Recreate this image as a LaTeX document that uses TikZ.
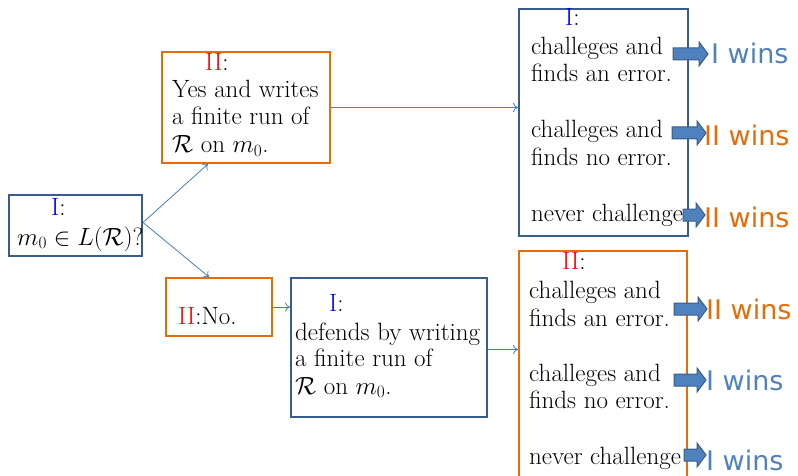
\documentclass[tikz,border=0pt]{standalone}
\usepackage{fontspec}
\usepackage{amsmath,amssymb}
\usetikzlibrary{calc,arrows.meta}
\newfontfamily\winfont{DejaVu Sans}
\definecolor{boxblue}{HTML}{385D8A}
\definecolor{boxorange}{HTML}{E46C0A}
\definecolor{lineblue}{HTML}{4A7EBB}
\definecolor{winblue}{HTML}{4F81BD}
\definecolor{winorange}{HTML}{E46C0A}
\tikzset{
  bluebox/.style={draw=boxblue, line width=2pt, anchor=north west, inner sep=0pt},
  orangebox/.style={draw=boxorange, line width=2pt, anchor=north west, inner sep=0pt},
  txt/.style={anchor=base west, inner sep=0pt, font=\fontsize{25}{27}\selectfont},
  conn/.style={draw=lineblue, line width=0.8pt, -{To[length=5pt,width=9pt]}},
  blockarrow/.style={draw=boxblue, fill=winblue, line width=1pt, line join=miter},
  winlab/.style={anchor=base west, inner sep=0pt, font=\winfont\fontsize{27}{30}\selectfont},
}
% \barrow{x0}{x1}{y}
\newcommand\barrow[3]{%
  \draw[blockarrow] (#1,#3-6) -- (#2-9,#3-6) -- (#2-9,#3-12) -- (#2,#3) -- (#2-9,#3+12)
    -- (#2-9,#3+6) -- (#1,#3+6) -- cycle;}
\begin{document}
\begin{tikzpicture}[x=1pt,y=-1pt]
\useasboundingbox (0,0) rectangle (798,476);
% boxes
\node[bluebox, minimum width=133, minimum height=61] (A) at (8,194) {};
\node[orangebox, minimum width=168, minimum height=111] (B) at (161,51) {};
\node[bluebox, minimum width=169, minimum height=227] (C) at (518,8) {};
\node[orangebox, minimum width=106, minimum height=58] (D) at (165,277) {};
\node[bluebox, minimum width=196, minimum height=139] (E) at (290,277) {};
\node[orangebox, minimum width=168, minimum height=240] (F) at (518,250) {};
% texts
\node[txt] (a1) at (51,215) {\textcolor{blue}{I}:};
\node[txt] (a2) at (17,245) {$m_0\in L(\mathcal{R})$?};
\node[txt] (b1) at (205,71) {\textcolor{red}{II}:};
\node[txt] (b2) at (172,98) {Yes and writes};
\node[txt] (b3) at (172,125) {a finite run of};
\node[txt] (b4) at (172,153) {$\mathcal{R}$ on $m_0$.};
\node[txt] (c1) at (565,26) {\textcolor{blue}{I}:};
\node[txt] (c2) at (531,55) {challeges and};
\node[txt] (c3) at (531,82) {finds an error.};
\node[txt] (c4) at (531,138) {challeges and};
\node[txt] (c5) at (531,165) {finds no error.};
\node[txt] (c6) at (531,221) {never challenge};
\node[txt] (d1) at (178,324) {\textcolor{red}{II}:No.};
\node[txt] (e1) at (329,311) {\textcolor{blue}{I}:};
\node[txt] (e2) at (295,340) {defends by writing};
\node[txt] (e3) at (295,366) {a finite run of};
\node[txt] (e4) at (295,394) {$\mathcal{R}$ on $m_0$.};
\node[txt] (f1) at (562,269) {\textcolor{red}{II}:};
\node[txt] (f2) at (529,298) {challeges and};
\node[txt] (f3) at (529,326) {finds an error.};
\node[txt] (f4) at (529,381) {challeges and};
\node[txt] (f5) at (529,408) {finds no error.};
\node[txt] (f6) at (529,464) {never challenge};
% connectors
\coordinate (ao) at ([yshift=3]A.east);
\draw[conn] (ao) -- ([xshift=-38]B.south);
\draw[conn] (ao) -- ([xshift=-10]D.north);
\draw[conn] (B.east) -- (B.east -| C.west);
\draw[conn] (D.east) -- (D.east -| E.west);
\draw[conn] ([yshift=-2]E.east) -- ([yshift=-2]E.east -| F.west);
% block arrows
\barrow{673}{708}{54}
\barrow{672}{706}{133}
\barrow{683}{705}{215}
\barrow{674}{707}{309}
\barrow{674}{706}{380}
\barrow{684}{706}{455}
% win labels
\node[winlab, text=winblue] (w1) at (711,64) {I wins};
\node[winlab, text=winorange] (w2) at (704,146) {II wins};
\node[winlab, text=winorange] (w3) at (704,227) {II wins};
\node[winlab, text=winorange] (w4) at (706,319) {II wins};
\node[winlab, text=winblue] (w5) at (706,390) {I wins};
\node[winlab, text=winblue] (w6) at (706,470) {I wins};
\end{tikzpicture}
\end{document}
